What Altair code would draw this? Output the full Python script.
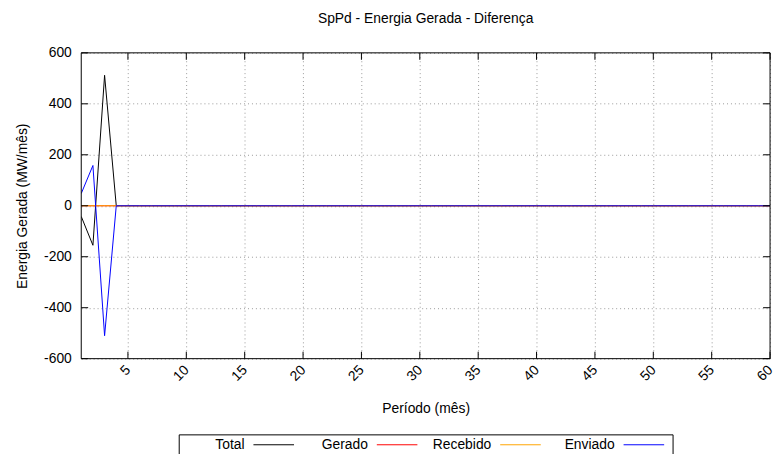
import altair as alt
import pandas as pd

periods = list(range(1, 61))
total = [-42, -155, 512] + [0] * 57
gerado = [0] * 60
recebido = [0] * 60
enviado = [48, 158, -510] + [0] * 57

series_names = ["Total", "Gerado", "Recebido", "Enviado"]
series_colors = ["#000000", "#ff0000", "#ffa500", "#0000ff"]
x_ticks = [5, 10, 15, 20, 25, 30, 35, 40, 45, 50, 55, 60]
y_ticks = [-600, -400, -200, 0, 200, 400, 600]

rows = []
for name, vals in zip(series_names, [total, gerado, recebido, enviado]):
    for p, v in zip(periods, vals):
        rows.append({"Período": p, "Valor": v, "Série": name})
df = pd.DataFrame(rows)
legend_df = pd.DataFrame({"Série": series_names})
xt_df = pd.DataFrame({"t": x_ticks})
yt_df = pd.DataFrame({"t": y_ticks})

W, H = 696, 309
FONT = "Liberation Sans"
FS = 14
TK = 7

xscale = alt.Scale(domain=[1, 60], nice=False, zero=False)
yscale = alt.Scale(domain=[-600, 600], nice=False)
cscale = alt.Scale(domain=series_names, range=series_colors)

x_enc = alt.X("Período:Q", scale=xscale,
              axis=alt.Axis(values=x_ticks, title="Período (mês)", labelAngle=315,
                            labelAlign="right", labelBaseline="middle",
                            labelPadding=9, tickSize=0, ticks=False,
                            labelExpr="'' + datum.value",
                            grid=True, gridDash=[1, 3], gridColor="#9a9a9a",
                            titleY=50, titleBaseline="middle", domain=False))
y_enc = alt.Y("Valor:Q", scale=yscale,
              axis=alt.Axis(values=y_ticks, title="Energia Gerada (MW/mês)",
                            ticks=False, tickSize=0, labelPadding=10,
                            labelExpr="'' + datum.value",
                            grid=True, gridDash=[1, 3], gridColor="#9a9a9a",
                            titleX=-59, titleY=H / 2, titleAngle=270,
                            titleAlign="center", titleBaseline="middle", domain=False))

series_layers = []
for i, name in enumerate(series_names):
    layer = alt.Chart(df).mark_line(strokeWidth=1, clip=True).encode(
        x=x_enc if i == 0 else alt.X("Período:Q", scale=xscale),
        y=y_enc if i == 0 else alt.Y("Valor:Q", scale=yscale),
        color=alt.Color("Série:N", scale=cscale, legend=None),
    ).transform_filter(alt.datum["Série"] == name)
    series_layers.append(layer)

# plot border
border = alt.Chart(legend_df).mark_rect(fill=None, stroke="black", strokeWidth=1).encode(
    x=alt.value(0), x2=alt.value(W), y=alt.value(0), y2=alt.value(H)
).transform_filter("datum['Série'] == 'Total'")

# inward ticks
xt_bottom = alt.Chart(xt_df).mark_rule(color="black").encode(
    x=alt.X("t:Q", scale=xscale), y=alt.value(H), y2=alt.value(H - TK))
xt_top = alt.Chart(xt_df).mark_rule(color="black").encode(
    x=alt.X("t:Q", scale=xscale), y=alt.value(0), y2=alt.value(TK))
yt_left = alt.Chart(yt_df).mark_rule(color="black").encode(
    y=alt.Y("t:Q", scale=yscale), x=alt.value(0), x2=alt.value(TK))
yt_right = alt.Chart(yt_df).mark_rule(color="black").encode(
    y=alt.Y("t:Q", scale=yscale), x=alt.value(W), x2=alt.value(W - TK))

# custom legend (label left of sample line)
lscale = alt.Scale(type="point", domain=series_names, range=[174, 548], padding=0)
legend_box = alt.Chart(legend_df).mark_rect(fill="white", stroke="black", strokeWidth=1).encode(
    x=alt.value(99), x2=alt.value(598), y=alt.value(386), y2=alt.value(430)
).transform_filter("datum['Série'] == 'Total'")
legend_text = alt.Chart(legend_df).mark_text(
    align="right", baseline="middle", dx=-9, fontSize=FS, font=FONT, color="black"
).encode(
    x=alt.X("Série:N", scale=lscale, axis=None),
    y=alt.value(396),
    text="Série:N",
)
legend_lines = alt.Chart(legend_df).mark_rule(strokeWidth=1, x2Offset=41).encode(
    x=alt.X("Série:N", scale=lscale, axis=None),
    x2="Série:N",
    y=alt.value(396),
    color=alt.Color("Série:N", scale=cscale, legend=None),
)
legend_layer = alt.layer(legend_box, legend_text, legend_lines)

main = alt.layer(*series_layers, border, xt_bottom, xt_top, yt_left, yt_right)

chart = alt.layer(main, legend_layer).resolve_scale(x="independent").properties(
    width=W, height=H,
    title=alt.TitleParams("SpPd - Energia Gerada - Diferença", fontSize=FS, font=FONT,
                          fontWeight="normal", anchor="middle", offset=20,
                          color="black"),
    autosize=alt.AutoSizeParams(type="none"),
    padding={"left": 74, "top": 43, "right": 5, "bottom": 94},
).configure_axis(
    labelFont=FONT, titleFont=FONT, labelFontSize=FS, titleFontSize=FS,
    labelColor="black", titleColor="black", titleFontWeight="normal",
).configure_view(stroke=None)

chart.save("out.html", embed_options={"renderer": "svg", "actions": False})
